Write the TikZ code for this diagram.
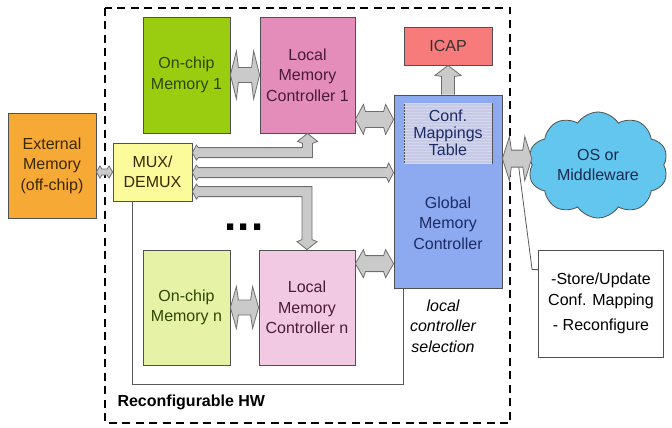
\documentclass[tikz,border=0pt]{standalone}
\usepackage{fontspec}
\setmainfont{Liberation Sans}
\usetikzlibrary{shapes.symbols,calc,patterns}
\definecolor{extc}{HTML}{F7A935}
\definecolor{muxc}{HTML}{FBFB9C}
\definecolor{ocac}{HTML}{9ACD0F}
\definecolor{lmcac}{HTML}{E48DBA}
\definecolor{icapc}{HTML}{F87B7B}
\definecolor{gmcc}{HTML}{8DAAF0}
\definecolor{tablec}{HTML}{C6CAE6}
\definecolor{ocnc}{HTML}{E6F3A6}
\definecolor{lmcnc}{HTML}{F2C9E2}
\definecolor{cloudc}{HTML}{62C6EE}
\definecolor{boxline}{HTML}{505050}
\definecolor{arfill}{HTML}{CACACA}
\definecolor{arline}{HTML}{6E6E6E}
\definecolor{exttext}{HTML}{3A2800}
\definecolor{octext}{HTML}{2F4500}
\definecolor{lmctext}{HTML}{4A1A3A}
\definecolor{gmctext}{HTML}{1C2B66}
\definecolor{cloudtext}{HTML}{1A2A50}
\tikzset{
  box/.style={draw=boxline, line width=0.8pt, inner sep=0pt, align=center},
  fatshape/.style={draw=arline, fill=arfill, line width=0.8pt, line join=miter},
  thinline/.style={draw=black!65, line width=0.8pt},
}
% horizontal double arrow: #1 left point, #2 right point (its x), #3 half shaft,
% #4 left half head, #5 left head length, #6 right half head, #7 right head length
\newcommand\fatHH[7]{%
  \draw[fatshape] let \p1=#1, \p2=#2 in
   (\x1,\y1) -- (\x1+#5pt,\y1+#4pt) -- (\x1+#5pt+2pt,\y1+#3pt) -- (\x2-#7pt-2pt,\y1+#3pt)
   -- (\x2-#7pt,\y1+#6pt) -- (\x2,\y1) -- (\x2-#7pt,\y1-#6pt) -- (\x2-#7pt-2pt,\y1-#3pt)
   -- (\x1+#5pt+2pt,\y1-#3pt) -- (\x1+#5pt,\y1-#4pt) -- cycle;}
% vertical arrow upward: #1 start, #2 tip, #3 half shaft, #4 half head, #5 barb, #6 join
\newcommand\fatUp[6]{%
  \draw[fatshape] let \p1=#1, \p2=#2 in
   (\x1-#3pt,\y1) -- (\x1-#3pt,\y2-#6pt) -- (\x1-#4pt,\y2-#5pt) -- (\x1,\y2)
   -- (\x1+#4pt,\y2-#5pt) -- (\x1+#3pt,\y2-#6pt) -- (\x1+#3pt,\y1);}
\begin{document}
\begin{tikzpicture}[x=1pt,y=-1pt,font=\fontsize{16}{20.5}\selectfont]
\useasboundingbox (0,0) rectangle (672,428);
% reconfigurable HW border
\draw[line width=2pt, dash pattern=on 8pt off 5.5pt] (105,8) rectangle (510,423);
\node[anchor=west, font=\fontsize{16}{20}\selectfont\bfseries] (hwlabel) at (114,402) {Reconfigurable HW};

% boxes
\node[box, fill=extc, text=exttext, minimum width=88pt, minimum height=105pt] (ext) at (52,165.5) {External\\Memory\\(off-chip)};
\node[box, fill=muxc, text=exttext, minimum width=79pt, minimum height=58pt] (mux) at (152.5,172) {MUX/\\DEMUX};
\node[box, fill=ocac, text=octext, minimum width=87pt, minimum height=116pt] (oc1) at (186.5,75) {On-chip\\Memory 1};
\node[box, fill=lmcac, text=lmctext, minimum width=95pt, minimum height=116pt] (lmc1) at (307.5,75) {Local\\Memory\\Controller 1};
\node[box, fill=ocnc, text=octext, minimum width=87pt, minimum height=115pt] (ocn) at (186.5,307.5) {On-chip\\Memory n};
\node[box, fill=lmcnc, text=lmctext, minimum width=96pt, minimum height=115pt] (lmcn) at (307,307.5) {Local\\Memory\\Controller n};
\node[box, fill=icapc, text=black!80, minimum width=88pt, minimum height=38pt] (icap) at (448,46) {ICAP};
\node[box, fill=gmcc, minimum width=108pt, minimum height=193pt] (gmc) at (448,191.5) {};
\node[box, fill=tablec, text=gmctext, minimum width=88pt, minimum height=60pt,
      postaction={pattern=horizontal lines, pattern color=white!25!tablec},
      font=\fontsize{16}{17}\selectfont] (table) at (448,133) {Conf.\\Mappings\\Table};
\node[text=gmctext, align=center] (gmclabel) at (448,223) {Global\\Memory\\Controller};
\node[cloud, cloud puffs=10, cloud puff arc=115, aspect=1.35, draw=boxline, line width=0.8pt, fill=cloudc,
      text=cloudtext, minimum width=140pt, minimum height=106pt, inner sep=0pt, align=center] (cloud) at (598,165) {OS or\\Middleware};
\node[box, fill=white, minimum width=125pt, minimum height=107pt] (note) at (601,303.5) {-Store/Update\\Conf. Mapping\\[5pt]- Reconfigure};
\node[anchor=base, font=\fontsize{44}{44}\selectfont\bfseries] (dots) at (244,230) {.\hspace{1pt}.\hspace{1pt}.};
\node[align=center, font=\fontsize{16}{20.5}\selectfont\itshape] (sel) at (443,326) {local\\controller\\selection};

% thin lines
\coordinate (c1) at ($(mux.south west)+(20,0)$);
\coordinate (c2) at ($(gmc.south west)+(10,0)$);
\draw[thinline] (c1) -- ++(0,183) -| (c2);
\coordinate (a3) at ($(gmc.north east)+(0,64)$);
\coordinate (d1) at ($(a3)+(16,6)$);
\coordinate (d2) at ($(note.north west)+(-6,20)$);
\draw[thinline] (d1) -- (d2) -- ($(note.north west)+(0,20)$);

% fat arrows
\fatHH{(ext.east |- mux.west)}{(mux.west)}{3}{6}{3.5}{6}{3.5}
\fatHH{(oc1.east)}{(lmc1.west)}{7.5}{24}{6}{24}{6}
\fatHH{(ocn.east)}{(lmcn.west)}{7.5}{21}{6}{21}{6}
\coordinate (a1) at ($(lmc1.south east)+(0,-14)$);
\fatHH{(a1)}{(a1 -| gmc.west)}{8}{15}{8}{15}{8}
\coordinate (a2) at ($(lmcn.north east)+(0,14)$);
\fatHH{(a2)}{(a2 -| gmc.west)}{8}{14}{8}{14}{8}
\fatHH{(a3)}{(a3 -| cloud.west)}{8.5}{22}{7}{22}{7}
\fatUp{(gmc.north)}{(icap.south)}{6.5}{13}{10}{11}
\coordinate (b1) at ($(mux.north east)+(0,10)$);
\coordinate (b2) at ($(mux.north east)+(0,30)$);
\coordinate (b3) at ($(mux.north east)+(0,49)$);
% bus to local controller 1 (up)
\draw[fatshape] let \p1=(b1), \p2=(lmc1.south) in
  (\x1,\y1) -- (\x1+4pt,\y1+7.5pt) -- (\x1+6pt,\y1+5pt) -- (\x2-5pt,\y1+5pt) -- (\x2-5pt,\y2-10pt)
  -- (\x2-10pt,\y2-8pt) -- (\x2,\y2) -- (\x2+10pt,\y2-8pt) -- (\x2+5pt,\y2-10pt) -- (\x2+5pt,\y1-5pt)
  -- (\x1+6pt,\y1-5pt) -- (\x1+4pt,\y1-7.5pt) -- cycle;
% bus to global controller
\fatHH{(b2)}{(b2 -| gmc.west)}{5}{7.5}{4}{9.5}{5}
% bus to local controller n (down)
\draw[fatshape] let \p1=(b3), \p2=(lmcn.north) in
  (\x1,\y1) -- (\x1+4pt,\y1+7.5pt) -- (\x1+6pt,\y1+5pt) -- (\x2+5pt,\y1+5pt) -- (\x2+5pt,\y2+10pt)
  -- (\x2+10pt,\y2+8pt) -- (\x2,\y2) -- (\x2-10pt,\y2+8pt) -- (\x2-5pt,\y2+10pt) -- (\x2-5pt,\y1-5pt)
  -- (\x1+6pt,\y1-5pt) -- (\x1+4pt,\y1-7.5pt) -- cycle;
\end{tikzpicture}
\end{document}
